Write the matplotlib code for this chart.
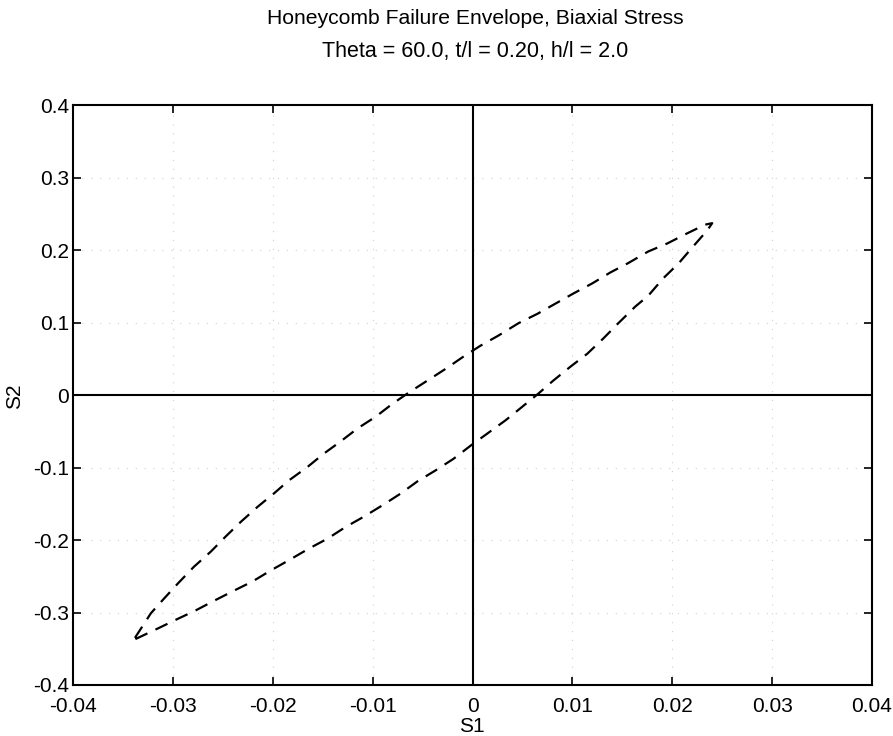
import matplotlib
matplotlib.use("Agg")
import matplotlib.pyplot as plt

plt.rcParams['font.family'] = ['Liberation Sans', 'DejaVu Sans']

title1 = "Honeycomb Failure Envelope, Biaxial Stress"
title2 = "Theta = 60.0, t/l = 0.20, h/l = 2.0"
xlabel = "S1"
ylabel = "S2"

x_ticks = [-0.04, -0.03, -0.02, -0.01, 0, 0.01, 0.02, 0.03, 0.04]
x_tick_labels = ["-0.04", "-0.03", "-0.02", "-0.01", "0", "0.01", "0.02", "0.03", "0.04"]
y_ticks = [-0.4, -0.3, -0.2, -0.1, 0, 0.1, 0.2, 0.3, 0.4]
y_tick_labels = ["-0.4", "-0.3", "-0.2", "-0.1", "0", "0.1", "0.2", "0.3", "0.4"]

# upper branch (bottom-left tip -> top-right tip)
upper_s1 = [-0.0338, -0.0322, -0.0309, -0.0295, -0.0279, -0.0262, -0.0247, -0.0232,
            -0.0215, -0.0199, -0.0184, -0.0165, -0.0149, -0.0132, -0.0115, -0.0097,
            -0.0080, -0.0062, -0.0045, -0.0027, -0.0009, 0.0008, 0.0026, 0.0046,
            0.0065, 0.0083, 0.0101, 0.0120, 0.0138, 0.0156, 0.0176, 0.0195,
            0.0215, 0.0233, 0.0240]
upper_s2 = [-0.335, -0.301, -0.281, -0.260, -0.237, -0.216, -0.195, -0.175,
            -0.154, -0.136, -0.118, -0.099, -0.081, -0.064, -0.046, -0.030,
            -0.012, 0.005, 0.020, 0.036, 0.053, 0.068, 0.082, 0.099,
            0.112, 0.126, 0.140, 0.154, 0.169, 0.182, 0.198, 0.209,
            0.223, 0.235, 0.237]

# lower branch (top-right tip -> bottom-left tip)
lower_s1 = [0.0235, 0.0221, 0.0206, 0.0191, 0.0176, 0.0163, 0.0146, 0.0131,
            0.0115, 0.0098, 0.0081, 0.0066, 0.0050, 0.0033, 0.0015, -0.0002,
            -0.0019, -0.0037, -0.0055, -0.0072, -0.0090, -0.0109, -0.0127, -0.0145,
            -0.0164, -0.0184, -0.0202, -0.0220, -0.0239, -0.0259, -0.0277, -0.0297,
            -0.0315, -0.0338]
lower_s2 = [0.227, 0.205, 0.181, 0.161, 0.137, 0.122, 0.099, 0.078,
            0.057, 0.039, 0.020, 0.002, -0.016, -0.035, -0.053, -0.070,
            -0.088, -0.104, -0.119, -0.136, -0.152, -0.168, -0.182, -0.198,
            -0.212, -0.228, -0.242, -0.257, -0.270, -0.284, -0.297, -0.310,
            -0.322, -0.337]

fig = plt.figure(figsize=(8.93, 7.36), dpi=100)
ax = fig.add_axes([73/893, 51/736, 799/893, 580/736])

s1 = upper_s1 + lower_s1
s2 = upper_s2 + lower_s2
ax.plot(s1, s2, color='black', lw=1.6, linestyle=(0, (6, 4)), dash_capstyle='butt')

ax.axhline(0, color='black', lw=1.5)
ax.axvline(0, color='black', lw=1.5)

ax.set_xlim(-0.04, 0.04)
ax.set_ylim(-0.4, 0.4)
ax.set_xticks(x_ticks)
ax.set_xticklabels(x_tick_labels)
ax.set_yticks(y_ticks)
ax.set_yticklabels(y_tick_labels)
ax.tick_params(direction='in', top=True, right=True, length=6, width=1.2, labelsize=15)
ax.tick_params(axis='x', pad=8.5)
ax.tick_params(axis='y', pad=3)
ax.grid(True, color='#d0d0d0', linestyle=(0, (1, 7)), lw=0.8)
for sp in ax.spines.values():
    sp.set_linewidth(1.5)

fig.text(0.532, 1 - 19/736, title1, ha='center', va='center', fontsize=15.2)
fig.text(0.532, 1 - 52/736, title2, ha='center', va='center', fontsize=15.5)
fig.text(472/893, 1 - 727/736, xlabel, ha='center', va='center', fontsize=15)
fig.text(15/893, 1 - 396/736, ylabel, ha='center', va='center', fontsize=15, rotation=90)

fig.savefig("out.png", dpi=100)
